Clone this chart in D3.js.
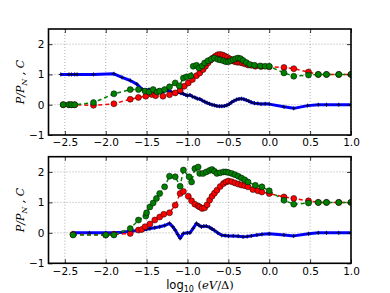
<!DOCTYPE html>
<html><head><meta charset="utf-8">
<script src="https://cdn.jsdelivr.net/npm/d3@7"></script>
<style>body{margin:0;background:#fff}svg{display:block}</style>
</head><body><svg id="c" width="390" height="293"></svg>
<script>
// ---- data ----
const xTicks = [-2.5, -2.0, -1.5, -1.0, -0.5, 0.0, 0.5, 1.0];
const yTicks = [-1, 0, 1, 2];
const xTickLabels = ["\u22122.5", "\u22122.0", "\u22121.5", "\u22121.0", "\u22120.5", "0.0", "0.5", "1.0"];
const yTickLabels = ["\u22121", "0", "1", "2"];

const topBlue = [[-2.55,1.0],[-2.45,1.0],[-2.42,1.0],[-2.38,1.0],[-2.35,1.0],[-2.15,1.0],[-1.9,1.02],[-1.8,0.9],[-1.7,0.8],[-1.62,0.68],[-1.55,0.5],[-1.5,0.48],[-1.47,0.5],[-1.44,0.47],[-1.41,0.48],[-1.38,0.45],[-1.35,0.48],[-1.32,0.42],[-1.29,0.45],[-1.25,0.48],[-1.2,0.42],[-1.15,0.38],[-1.12,0.42],[-1.08,0.38],[-1.05,0.36],[-1.02,0.32],[-1.0,0.3],[-0.97,0.32],[-0.94,0.27],[-0.91,0.24],[-0.88,0.2],[-0.85,0.19],[-0.82,0.14],[-0.79,0.1],[-0.76,0.06],[-0.73,0.03],[-0.7,0.0],[-0.67,-0.02],[-0.64,-0.04],[-0.61,-0.05],[-0.58,-0.05],[-0.55,-0.04],[-0.52,-0.02],[-0.49,0.02],[-0.46,0.08],[-0.43,0.13],[-0.4,0.17],[-0.37,0.19],[-0.34,0.2],[-0.31,0.18],[-0.28,0.15],[-0.25,0.12],[-0.22,0.08],[-0.18,0.05],[-0.14,0.04],[-0.1,0.02],[-0.05,0.03],[0.0,0.02],[0.18,-0.07],[0.3,-0.12],[0.47,-0.03],[0.6,0.0],[0.7,0.0],[0.85,0.0],[1.0,0.0]];
const topRed = [[-2.52,0.0],[-2.45,0.0],[-2.42,0.0],[-2.38,0.0],[-2.15,-0.02],[-1.9,0.03],[-1.7,0.18],[-1.6,0.24],[-1.51,0.28],[-1.44,0.34],[-1.39,0.3],[-1.3,0.28],[-1.22,0.33],[-1.15,0.39],[-1.09,0.48],[-1.04,0.61],[-0.99,0.72],[-0.94,0.83],[-0.89,0.96],[-0.85,1.05],[-0.81,1.16],[-0.78,1.27],[-0.75,1.38],[-0.72,1.47],[-0.69,1.54],[-0.66,1.6],[-0.63,1.65],[-0.6,1.66],[-0.57,1.64],[-0.54,1.6],[-0.51,1.56],[-0.48,1.51],[-0.45,1.46],[-0.42,1.42],[-0.39,1.4],[-0.36,1.4],[-0.33,1.38],[-0.3,1.35],[-0.26,1.31],[-0.22,1.3],[-0.17,1.27],[-0.1,1.26],[0.0,1.25],[0.18,1.23],[0.3,1.19],[0.48,1.08],[0.6,1.0],[0.7,1.0],[0.85,1.0],[1.0,1.0]];
const topGreen = [[-2.52,0.0],[-2.45,0.0],[-2.42,0.0],[-2.38,0.0],[-2.15,0.07],[-1.9,0.36],[-1.7,0.5],[-1.6,0.5],[-1.52,0.45],[-1.47,0.42],[-1.42,0.5],[-1.37,0.42],[-1.34,0.45],[-1.28,0.5],[-1.22,0.59],[-1.15,0.72],[-1.1,0.62],[-1.05,0.88],[-1.01,0.92],[-0.96,0.95],[-0.93,1.27],[-0.89,1.3],[-0.86,1.21],[-0.82,1.28],[-0.79,1.38],[-0.75,1.45],[-0.71,1.5],[-0.67,1.54],[-0.63,1.5],[-0.6,1.48],[-0.56,1.45],[-0.53,1.42],[-0.5,1.42],[-0.47,1.45],[-0.44,1.49],[-0.41,1.52],[-0.38,1.54],[-0.35,1.52],[-0.32,1.46],[-0.28,1.39],[-0.24,1.33],[-0.18,1.3],[-0.11,1.28],[-0.05,1.27],[0.0,1.27],[0.18,1.05],[0.3,0.94],[0.48,0.98],[0.6,1.0],[0.7,1.0],[0.85,1.0],[1.0,1.0]];

const botBlue = [[-2.4,0.0],[-2.2,0.0],[-2.0,0.0],[-1.9,0.0],[-1.8,0.02],[-1.7,0.05],[-1.6,0.08],[-1.55,0.09],[-1.5,0.12],[-1.46,0.14],[-1.4,0.17],[-1.34,0.2],[-1.28,0.24],[-1.22,0.31],[-1.18,0.2],[-1.15,0.09],[-1.12,-0.05],[-1.09,-0.18],[-1.05,-0.02],[-1.0,0.0],[-0.97,0.0],[-0.93,0.15],[-0.89,0.31],[-0.86,0.25],[-0.83,0.2],[-0.8,0.22],[-0.77,0.22],[-0.73,0.18],[-0.7,0.13],[-0.67,0.08],[-0.63,0.0],[-0.58,-0.08],[-0.54,-0.09],[-0.5,-0.1],[-0.44,-0.1],[-0.38,-0.11],[-0.32,-0.13],[-0.27,-0.12],[-0.22,-0.1],[-0.15,-0.07],[-0.09,-0.05],[0.0,-0.03],[0.18,-0.07],[0.3,-0.1],[0.48,-0.03],[0.6,0.0],[0.7,0.0],[0.85,0.0],[1.0,0.0]];
const botRed = [[-2.4,-0.05],[-2.0,-0.07],[-1.9,-0.05],[-1.7,-0.02],[-1.6,0.09],[-1.56,0.11],[-1.52,0.2],[-1.46,0.29],[-1.4,0.42],[-1.34,0.52],[-1.29,0.61],[-1.22,0.66],[-1.15,0.91],[-1.09,1.29],[-1.05,1.36],[-0.99,1.2],[-0.95,1.05],[-0.91,0.94],[-0.87,0.88],[-0.85,0.85],[-0.82,0.8],[-0.79,0.82],[-0.76,0.92],[-0.73,1.07],[-0.7,1.2],[-0.67,1.3],[-0.64,1.4],[-0.6,1.52],[-0.56,1.62],[-0.53,1.67],[-0.5,1.7],[-0.46,1.68],[-0.42,1.64],[-0.38,1.6],[-0.34,1.57],[-0.3,1.55],[-0.26,1.51],[-0.2,1.42],[-0.14,1.38],[-0.09,1.34],[0.0,1.29],[0.18,1.18],[0.3,1.13],[0.48,1.05],[0.6,1.0],[0.7,1.0],[0.85,1.0],[1.0,1.0]];
const botGreen = [[-2.4,-0.07],[-2.0,-0.07],[-1.9,-0.07],[-1.7,0.14],[-1.6,0.42],[-1.51,0.55],[-1.5,0.66],[-1.46,0.85],[-1.42,0.98],[-1.38,1.13],[-1.34,1.29],[-1.28,1.51],[-1.22,1.86],[-1.15,1.84],[-1.09,1.53],[-1.05,2.06],[-0.98,1.84],[-0.95,1.67],[-0.91,2.11],[-0.87,2.16],[-0.85,1.95],[-0.81,1.95],[-0.77,2.0],[-0.73,2.05],[-0.7,2.08],[-0.67,2.02],[-0.64,1.95],[-0.6,1.97],[-0.56,2.0],[-0.53,2.0],[-0.5,1.98],[-0.46,1.95],[-0.42,1.91],[-0.38,1.86],[-0.34,1.8],[-0.3,1.74],[-0.26,1.67],[-0.17,1.56],[-0.09,1.51],[0.0,1.38],[0.18,1.07],[0.3,0.94],[0.48,0.98],[0.6,1.0],[0.7,1.0],[0.85,1.0],[1.0,1.0]];

// ---- drawing ----
const svg = d3.select("#c");
svg.append("rect").attr("width",390).attr("height",293).attr("fill","#fff");
const L = 48.5, R = 351;
const x = d3.scaleLinear().domain([-2.7, 1.0]).range([L, R]);

const panels = [
  {top: 29, bot: 135, blue: topBlue, red: topRed, green: topGreen, labY: 82},
  {top: 156.7, bot: 263.3, blue: botBlue, red: botRed, green: botGreen, labY: 210}
];

panels.forEach((p, i) => {
  const y = d3.scaleLinear().domain([-1, 2.5]).range([p.bot, p.top]);
  const g = svg.append("g");
  const clipId = "clip" + i;
  svg.append("clipPath").attr("id", clipId).append("rect")
    .attr("x", L).attr("y", p.top).attr("width", R - L).attr("height", p.bot - p.top);

  // grid
  const grid = g.append("g").attr("stroke", "#999").attr("stroke-width", 0.8).attr("stroke-dasharray", "1,2");
  xTicks.forEach(t => grid.append("line").attr("x1", x(t)).attr("x2", x(t)).attr("y1", p.top).attr("y2", p.bot));
  yTicks.forEach(t => grid.append("line").attr("x1", L).attr("x2", R).attr("y1", y(t)).attr("y2", y(t)));

  const data = g.append("g").attr("clip-path", `url(#${clipId})`);
  const line = d3.line().x(d => x(d[0])).y(d => y(d[1]));

  // blue
  data.append("path").datum(p.blue).attr("d", line).attr("fill", "none")
    .attr("stroke", "#0000ff").attr("stroke-width", 3).attr("stroke-linejoin", "round");
  data.append("g").selectAll("path").data(p.blue).join("path")
    .attr("d", d => `M${x(d[0])-2},${y(d[1])}h4M${x(d[0])},${y(d[1])-2}v4`)
    .attr("stroke", "#00003a").attr("stroke-width", 1);

  // red
  data.append("path").datum(p.red).attr("d", line).attr("fill", "none")
    .attr("stroke", "#ff0000").attr("stroke-width", 1.5).attr("stroke-dasharray", "4,3");
  data.append("g").selectAll("circle").data(p.red).join("circle")
    .attr("cx", d => x(d[0])).attr("cy", d => y(d[1])).attr("r", 3)
    .attr("fill", "#ff0000").attr("stroke", "#000").attr("stroke-width", 0.5);

  // green
  data.append("path").datum(p.green).attr("d", line).attr("fill", "none")
    .attr("stroke", "#008000").attr("stroke-width", 1.5).attr("stroke-dasharray", "4,3");
  data.append("g").selectAll("circle").data(p.green).join("circle")
    .attr("cx", d => x(d[0])).attr("cy", d => y(d[1])).attr("r", 3)
    .attr("fill", "#008000").attr("stroke", "#000").attr("stroke-width", 0.5);

  // axes: ticks inward on all sides
  const xb = d3.axisBottom(x).tickValues(xTicks).tickSizeInner(-4).tickSizeOuter(0).tickPadding(4)
    .tickFormat((d, k) => xTickLabels[k]);
  const xt = d3.axisTop(x).tickValues(xTicks).tickSizeInner(-4).tickSizeOuter(0).tickFormat("");
  const yl = d3.axisLeft(y).tickValues(yTicks).tickSizeInner(-4).tickSizeOuter(0).tickPadding(4)
    .tickFormat((d, k) => yTickLabels[k]);
  const yr = d3.axisRight(y).tickValues(yTicks).tickSizeInner(-4).tickSizeOuter(0).tickFormat("");
  [[xb, `translate(0,${p.bot})`], [xt, `translate(0,${p.top})`], [yl, `translate(${L},0)`], [yr, `translate(${R},0)`]]
    .forEach(([ax, tr]) => {
      const a = g.append("g").attr("transform", tr).call(ax);
      a.select(".domain").remove();
      a.selectAll("line").attr("stroke", "#000").attr("stroke-width", 0.8);
      a.selectAll("text").attr("font-family", "DejaVu Sans").attr("font-size", 10.5).attr("fill", "#000");
    });

  // frame
  g.append("rect").attr("x", L).attr("y", p.top).attr("width", R - L).attr("height", p.bot - p.top)
    .attr("fill", "none").attr("stroke", "#000").attr("stroke-width", 1.6);

  // y label
  const t = g.append("text").attr("transform", `translate(24,${p.labY}) rotate(-90)`)
    .attr("text-anchor", "middle").attr("font-family", "DejaVu Serif").attr("font-style", "italic")
    .attr("font-size", 11);
  t.append("tspan").text("P/P");
  t.append("tspan").attr("font-size", 8).attr("dy", 3).text("N");
  t.append("tspan").attr("dy", -3).text(" , C");
});

// x label
const xl = svg.append("text").attr("x", 200).attr("y", 289).attr("text-anchor", "middle").attr("font-size", 11.5);
xl.append("tspan").attr("font-family", "DejaVu Sans").text("log");
xl.append("tspan").attr("font-family", "DejaVu Sans").attr("font-size", 8).attr("dy", 3).text("10");
xl.append("tspan").attr("dy", -3).attr("font-family", "DejaVu Serif").text(" (");
xl.append("tspan").attr("font-family", "DejaVu Serif").attr("font-style", "italic").text("eV");
xl.append("tspan").attr("font-family", "DejaVu Serif").text("/\u0394)");
</script></body></html>
